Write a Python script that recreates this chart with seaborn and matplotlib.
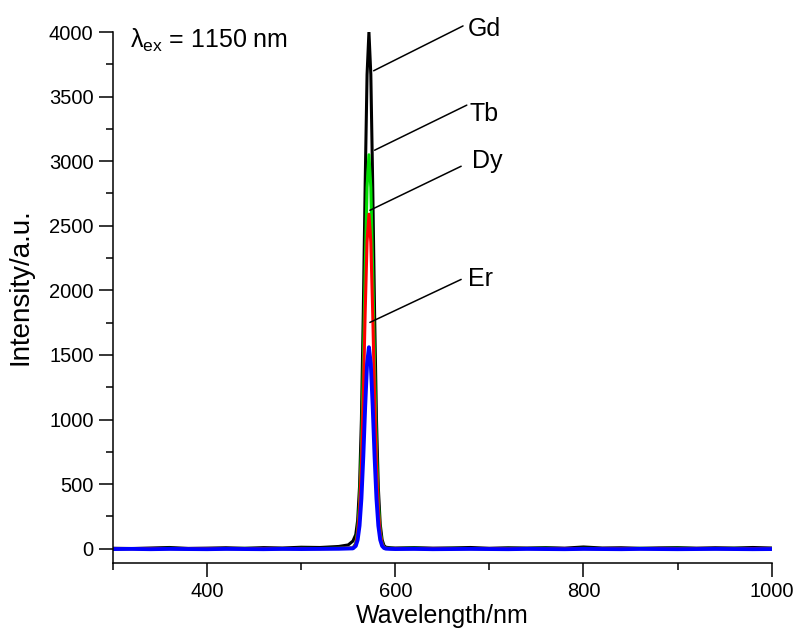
import matplotlib
matplotlib.use("Agg")
import matplotlib.pyplot as plt
import seaborn as sns
import pandas as pd
from matplotlib.ticker import MultipleLocator

# ---- data ----
wavelength = [300, 320, 340, 360, 380, 400, 420, 440, 460, 480, 500, 520, 540, 550,
              555, 558, 560, 562, 564, 566, 568, 570, 572, 574, 576, 578, 580, 582,
              584, 586, 588, 590, 595, 600, 620, 640, 660, 680, 700, 720, 740, 760,
              780, 800, 820, 840, 860, 880, 900, 920, 940, 960, 980, 1000]

gd = [4, 2, 6, 10, 3, 5, 8, 4, 9, 6, 12, 10, 18, 30,
      60, 110, 220, 480, 1000, 1830, 2820, 3670, 4000, 3670, 2820, 1830, 1000, 470,
      190, 70, 25, 12, 8, 6, 9, 5, 7, 10, 4, 8, 6, 9,
      5, 14, 6, 8, 4, 7, 9, 5, 8, 6, 10, 6]
tb = [0, 2, 1, 3, 0, 2, 1, 3, 2, 0, 3, 2, 4, 6,
      6, 43, 134, 348, 760, 1394, 2153, 2797, 3050, 2797, 2153, 1394, 760, 348,
      134, 43, 12, 4, 3, 2, 4, 1, 3, 2, 1, 3, 2, 4,
      1, 3, 2, 1, 3, 2, 4, 2, 1, 3, 2, 1]
dy = [0, 1, 0, 2, 1, 0, 2, 1, 0, 1, 2, 1, 3, 5,
      5, 36, 114, 295, 645, 1184, 1829, 2375, 2590, 2375, 1829, 1184, 645, 295,
      114, 36, 10, 3, 2, 1, 2, 0, 1, 2, 1, 0, 2, 1,
      0, 2, 1, 0, 1, 2, 0, 1, 2, 0, 1, 0]
er = [-2, -1, -3, -1, -2, -3, -1, -2, -3, -1, -2, -1, 0, 2,
      3, 22, 69, 178, 388, 713, 1101, 1430, 1560, 1430, 1101, 713, 388, 178,
      69, 22, 6, 1, -1, -2, -1, -3, -2, -1, -2, -3, -1, -2,
      -3, -1, -2, -3, -1, -2, -3, -2, -1, -2, -3, -2]

series_names = ["Gd", "Tb", "Dy", "Er"]
series_colors = ["#000000", "#00dd00", "#ff0000", "#0000ff"]
series_widths = [2.2, 2.2, 2.2, 2.8]

annot_points = [(577, 3700), (578, 3085), (573, 2620), (573, 1752)]
annot_ends = [(672, 4047), (676, 3434), (670, 2961), (670, 2085)]
label_pos = [(677, 3969), (679, 3310), (681, 2945), (677, 2031)]

# ---- styling ----
sns.set_style("ticks")
plt.rcParams["font.family"] = ["Liberation Sans", "DejaVu Sans"]
plt.rcParams["mathtext.fontset"] = "custom"
plt.rcParams["mathtext.rm"] = "Liberation Sans"
plt.rcParams["mathtext.it"] = "Liberation Sans:italic"
plt.rcParams["text.color"] = "black"
plt.rcParams["axes.labelcolor"] = "black"
plt.rcParams["xtick.color"] = "black"
plt.rcParams["ytick.color"] = "black"

fig = plt.figure(figsize=(7.98, 6.35), dpi=100)
ax = fig.add_axes([0.1416, 0.1134, 0.8254, 0.8362])

frames = []
for name, vals in zip(series_names, [gd, tb, dy, er]):
    frames.append(pd.DataFrame({"wavelength": wavelength, "intensity": vals, "element": name}))
df = pd.concat(frames, ignore_index=True)

for name, color, lw in zip(series_names, series_colors, series_widths):
    sub = df[df["element"] == name]
    sns.lineplot(data=sub, x="wavelength", y="intensity", color=color, linewidth=lw,
                 ax=ax, legend=False, estimator=None, sort=False)

ax.set_xlim(300, 1000)
ax.set_ylim(-110, 4000)
ax.xaxis.set_major_locator(MultipleLocator(200))
ax.xaxis.set_minor_locator(MultipleLocator(100))
ax.yaxis.set_major_locator(MultipleLocator(500))
ax.yaxis.set_minor_locator(MultipleLocator(250))
ax.set_xticks([400, 600, 800, 1000])

for s in ["top", "right"]:
    ax.spines[s].set_visible(False)
for s in ["left", "bottom"]:
    ax.spines[s].set_linewidth(1.1)
    ax.spines[s].set_color("black")

ax.tick_params(axis="both", which="major", direction="out", length=10, width=1.1,
               labelsize=14.5, colors="black", labelcolor="black", pad=4)
ax.tick_params(axis="both", which="minor", direction="out", length=5, width=1.1,
               colors="black")

ax.set_xlabel("Wavelength/nm", fontsize=18, color="black")
ax.set_ylabel("Intensity/a.u.", fontsize=20, color="black")
ax.xaxis.set_label_coords(0.5, -0.078)
ax.yaxis.set_label_coords(-0.121, 0.52)

for (px, py), (tx, ty), (lx, ly), name in zip(annot_points, annot_ends, label_pos, series_names):
    ax.annotate("", xy=(px, py), xytext=(tx, ty), xycoords="data", textcoords="data",
                arrowprops=dict(arrowstyle="-", color="black", lw=1.1,
                                shrinkA=0, shrinkB=0), annotation_clip=False)
    ax.text(lx, ly, name, fontsize=18, ha="left", va="baseline", clip_on=False,
            color="black")

ax.text(0.026, 0.985, r"$\mathrm{λ}_{\mathrm{ex}}$ = 1150 nm", transform=ax.transAxes,
        fontsize=18, ha="left", va="center", color="black")

fig.savefig("out.png", dpi=100)
